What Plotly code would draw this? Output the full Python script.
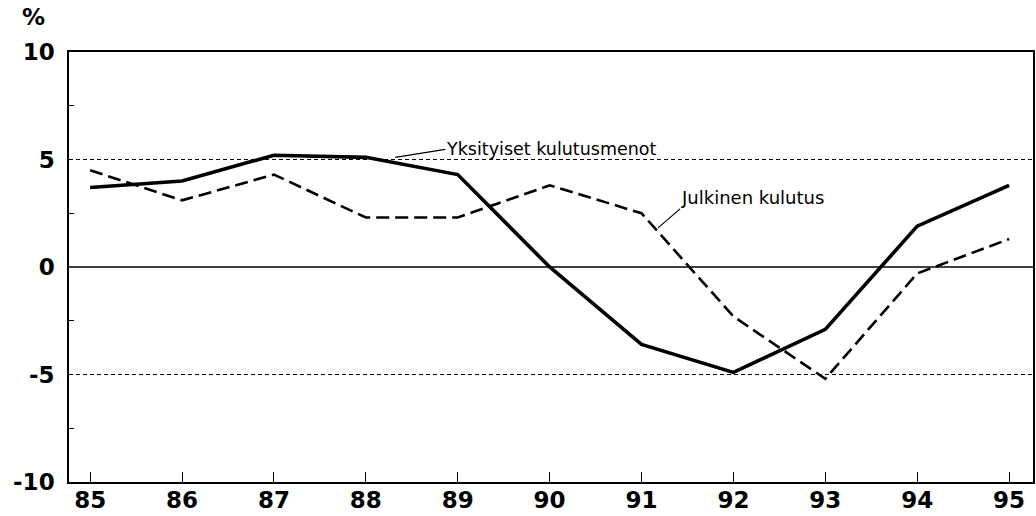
import plotly.graph_objects as go

years = [85, 86, 87, 88, 89, 90, 91, 92, 93, 94, 95]
tick_labels = ["85", "86", "87", "88", "89", "90", "91", "92", "93", "94", "95"]
private_consumption = [3.7, 4.0, 5.2, 5.1, 4.3, 0.0, -3.6, -4.9, -2.9, 1.9, 3.8]
public_consumption = [4.5, 3.1, 4.3, 2.3, 2.3, 3.8, 2.5, -2.3, -5.2, -0.3, 1.3]
y_ticks = [-10, -5, 0, 5, 10]
y_tick_labels = ["-10", "-5", "0", "5", "10"]
ref_levels = [5, -5]

FONT = "DejaVu Sans"

fig = go.Figure()
fig.add_trace(go.Scatter(x=years, y=public_consumption, mode="lines",
                         line=dict(color="black", width=2.6, dash="13px,6px"),
                         name="Julkinen kulutus"))
fig.add_trace(go.Scatter(x=years, y=private_consumption, mode="lines",
                         line=dict(color="black", width=3.6),
                         name="Yksityiset kulutusmenot"))

for lv in ref_levels:
    fig.add_shape(type="line", xref="paper", yref="y", x0=0, x1=1, y0=lv, y1=lv,
                  line=dict(color="black", width=1.1, dash="4px,3px"), layer="below")
fig.add_shape(type="line", xref="paper", yref="y", x0=0, x1=1, y0=0, y1=0,
              line=dict(color="black", width=1.4), layer="below")

fig.add_annotation(x=88.32, y=5.1, ax=50, ay=-8, text="Yksityiset kulutusmenot",
                   showarrow=True, arrowhead=0, arrowwidth=1.2, arrowcolor="black",
                   xanchor="left", yanchor="middle", borderpad=0,
                   font=dict(family=FONT, size=17.5, color="black"))
fig.add_annotation(x=91.18, y=1.82, ax=22, ay=-19, text="Julkinen kulutus",
                   showarrow=True, arrowhead=0, arrowwidth=1.2, arrowcolor="black",
                   xanchor="left", yanchor="bottom", borderpad=0,
                   font=dict(family=FONT, size=18, color="black"))
fig.add_annotation(xref="paper", yref="paper", x=-0.0508, y=1.081, text="<b>%</b>",
                   showarrow=False, xanchor="left", yanchor="middle",
                   font=dict(family=FONT, size=23, color="black"))

fig.update_xaxes(range=[84.77, 95.26], tickvals=years, ticktext=tick_labels,
                 ticks="inside", ticklen=10, tickwidth=1, tickcolor="black",
                 showgrid=False, zeroline=False, showline=True, linecolor="black",
                 linewidth=1.5, mirror=True, ticklabelstandoff=-3, automargin=False,
                 tickfont=dict(family=FONT, size=23, color="black", weight="bold"))
fig.update_yaxes(range=[-10, 10], tickvals=y_ticks, ticktext=y_tick_labels, ticks="",
                 showgrid=False, zeroline=False, showline=True, linecolor="black",
                 linewidth=1.5, mirror=True, ticklabelstandoff=8, automargin=False,
                 minor=dict(tickvals=[-7.5, -2.5, 2.5, 7.5], ticks="inside",
                            ticklen=5, tickcolor="black", tickwidth=1),
                 tickfont=dict(family=FONT, size=23, color="black", weight="bold"))

fig.update_layout(width=1036, height=516, showlegend=False,
                  plot_bgcolor="white", paper_bgcolor="white",
                  margin=dict(l=69, r=3, t=52, b=34))

# remove the page body's default 8px margin so the figure fills the window
fig.write_html("out.html", config={"displayModeBar": False},
               post_script="document.body.style.margin='0';")
